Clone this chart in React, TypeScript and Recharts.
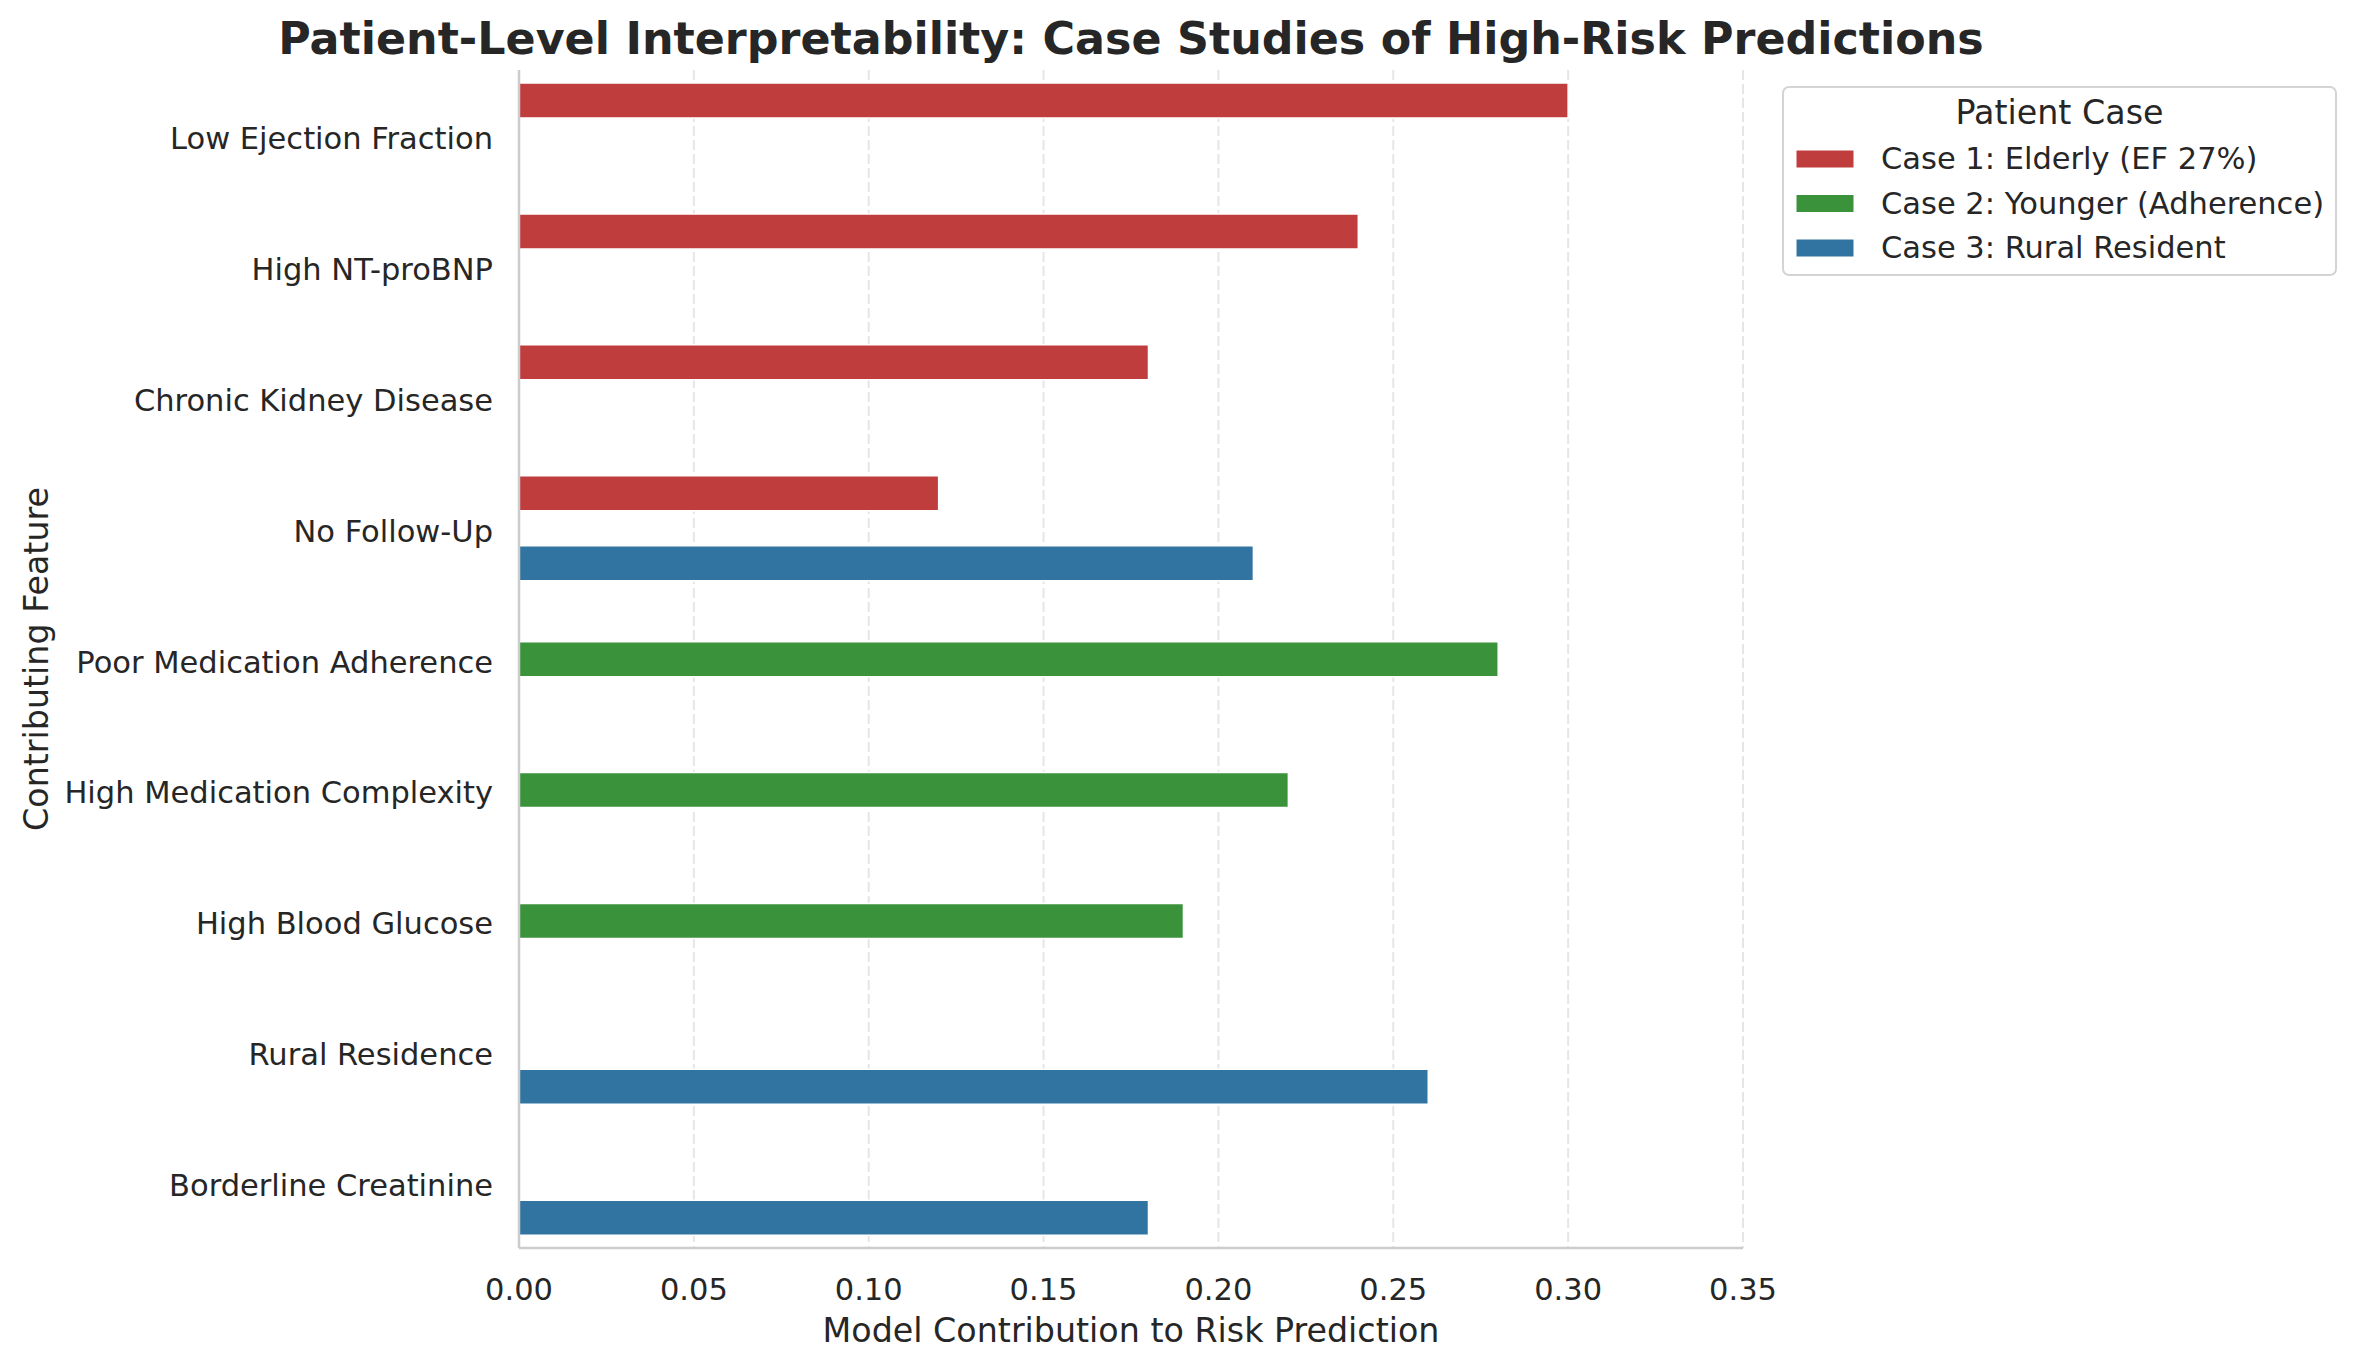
import { BarChart, Bar, XAxis, YAxis, CartesianGrid, Label } from 'recharts';

const features = [
  'Low Ejection Fraction',
  'High NT-proBNP',
  'Chronic Kidney Disease',
  'No Follow-Up',
  'Poor Medication Adherence',
  'High Medication Complexity',
  'High Blood Glucose',
  'Rural Residence',
  'Borderline Creatinine',
];

// contribution per feature, null where the case has no such driver
const case1 = [0.3, 0.24, 0.18, 0.12, null, null, null, null, null];
const case2 = [null, null, null, null, 0.28, 0.22, 0.19, null, null];
const case3 = [null, null, null, 0.21, null, null, null, 0.26, 0.18];

const caseNames = ['Case 1: Elderly (EF 27%)', 'Case 2: Younger (Adherence)', 'Case 3: Rural Resident'];
const caseKeys = ['case1', 'case2', 'case3'];
const caseColors = ['#c03d3e', '#3a923a', '#3274a1'];

const xTicks = [0, 0.05, 0.1, 0.15, 0.2, 0.25, 0.3, 0.35];

const rows = features.map((feature, i) => ({
  feature,
  case1: case1[i],
  case2: case2[i],
  case3: case3[i],
}));

const FONT = '"DejaVu Sans", sans-serif';
const TEXT = '#262626';

const W = 2355;
const H = 1368;
const PLOT_LEFT = 519;
const PLOT_RIGHT = 1743;
const PLOT_TOP = 70;
const PLOT_BOTTOM = 1248;

const TICK_FONT = 30.5;
const LABEL_FONT = 33.3;

function FeatureTick(props: any) {
  const { x, y, payload } = props;
  return (
    <text
      x={x}
      y={y + 3}
      textAnchor="end"
      dominantBaseline="central"
      fontFamily={FONT}
      fontSize={TICK_FONT}
      fill={TEXT}
    >
      {payload.value}
    </text>
  );
}

function YTitle(props: any) {
  const vb = props.viewBox;
  const cx = vb.x + 36;
  const cy = vb.y + vb.height / 2;
  return (
    <text
      x={cx}
      y={cy}
      transform={`rotate(-90, ${cx}, ${cy})`}
      textAnchor="middle"
      dominantBaseline="central"
      fontFamily={FONT}
      fontSize={LABEL_FONT}
      fill={TEXT}
    >
      Contributing Feature
    </text>
  );
}

function XTitle(props: any) {
  const vb = props.viewBox;
  return (
    <text
      x={vb.x + vb.width / 2}
      y={vb.y + 82}
      textAnchor="middle"
      dominantBaseline="central"
      fontFamily={FONT}
      fontSize={LABEL_FONT}
      fill={TEXT}
    >
      Model Contribution to Risk Prediction
    </text>
  );
}

// title and legend drawn on top of the chart
function Overlay() {
  const boxX = 1783;
  const boxY = 87;
  const boxW = 553;
  const boxH = 188;
  return (
    <svg
      width={W}
      height={H}
      style={{ position: 'absolute', left: 0, top: 0, pointerEvents: 'none' }}
    >
      <text
        x={(PLOT_LEFT + PLOT_RIGHT) / 2}
        y={54}
        textAnchor="middle"
        fontFamily={FONT}
        fontWeight="bold"
        fontSize={44.4}
        fill={TEXT}
      >
        Patient-Level Interpretability: Case Studies of High-Risk Predictions
      </text>
      <rect
        x={boxX}
        y={boxY}
        width={boxW}
        height={boxH}
        rx={6}
        fill="#ffffff"
        fillOpacity={0.8}
        stroke="#d4d4d4"
        strokeWidth={2}
      />
      <text
        x={boxX + boxW / 2}
        y={124}
        textAnchor="middle"
        fontFamily={FONT}
        fontSize={LABEL_FONT}
        fill={TEXT}
      >
        Patient Case
      </text>
      {caseNames.map((name, i) => (
        <g key={name}>
          <rect
            x={1796}
            y={150 + i * 44.5}
            width={58}
            height={18}
            fill={caseColors[i]}
            stroke="#ffffff"
            strokeWidth={1}
          />
          <text x={1881} y={169 + i * 44.5} fontFamily={FONT} fontSize={TICK_FONT} fill={TEXT}>
            {name}
          </text>
        </g>
      ))}
    </svg>
  );
}

export default function App() {
  return (
    <div style={{ position: 'absolute', left: 0, top: 0, width: W, height: H, background: '#fff' }}>
      <BarChart
        width={W}
        height={H}
        data={rows}
        layout="vertical"
        margin={{ top: PLOT_TOP, right: W - PLOT_RIGHT, bottom: 0, left: 0 }}
        barCategoryGap="10%"
        barGap={0}
      >
        <CartesianGrid horizontal={false} stroke="#e6e6e6" strokeWidth={2} strokeDasharray="10 4" />
        <XAxis
          type="number"
          domain={[0, 0.35]}
          ticks={xTicks}
          tickFormatter={(v: number) => v.toFixed(2)}
          height={H - PLOT_BOTTOM}
          axisLine={{ stroke: '#cccccc', strokeWidth: 2.5 }}
          tickLine={false}
          tickSize={0}
          tickMargin={30}
          tick={{ fontFamily: FONT, fontSize: TICK_FONT, fill: TEXT }}
        >
          <Label content={XTitle} />
        </XAxis>
        <YAxis
          type="category"
          dataKey="feature"
          width={PLOT_LEFT}
          axisLine={{ stroke: '#cccccc', strokeWidth: 2.5 }}
          tickLine={false}
          tickSize={0}
          tickMargin={26}
          interval={0}
          tick={FeatureTick}
        >
          <Label content={YTitle} />
        </YAxis>
        {caseKeys.map((key, i) => (
          <Bar
            key={key}
            dataKey={key}
            name={caseNames[i]}
            fill={caseColors[i]}
            stroke="#ffffff"
            strokeWidth={1.5}
            isAnimationActive={false}
          />
        ))}
      </BarChart>
      <Overlay />
    </div>
  );
}
